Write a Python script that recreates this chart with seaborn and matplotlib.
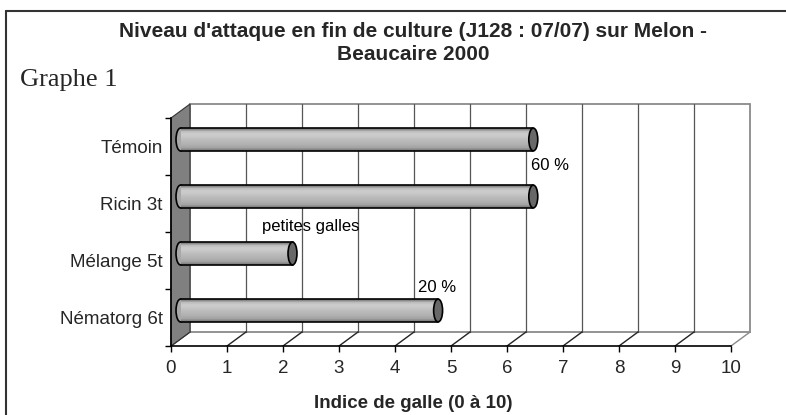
import numpy as np
import matplotlib
matplotlib.use("Agg")
import matplotlib.pyplot as plt
from matplotlib.patches import Polygon, Rectangle, Ellipse
from matplotlib.lines import Line2D
import seaborn as sns

# Données du graphe
categories = ["Témoin", "Ricin 3t", "Mélange 5t", "Nématorg 6t"]
indice_galle = [6.3, 6.3, 2.0, 4.6]
notes = ["", "60 %", "petites galles", "20 %"]
x_ticks = list(range(0, 11))

title = "Niveau d'attaque en fin de culture (J128 : 07/07) sur Melon -\nBeaucaire 2000"
subtitle = "Graphe 1"
x_label = "Indice de galle (0 à 10)"

# décalage (pixels) des étiquettes par rapport au bout de la barre
note_offsets = [(0, 0), (17, 31), (18, 27), (-1, 23)]

sns.set_theme(style="white")
plt.rcParams["font.family"] = ["Liberation Sans", "DejaVu Sans"]

W, H = 786, 415
fig = plt.figure(figsize=(W / 100, H / 100), dpi=100)
fig.patch.set_facecolor("white")
ax = fig.add_axes([171 / W, 1 - 346 / H, 560 / W, 228 / H])
ax.set_facecolor("none")

sns.barplot(x=indice_galle, y=categories, orient="h", width=0.4,
            color="#b4b4b4", ax=ax, zorder=5)
ax.set_xlim(0, 10)
ax.set_ylim(3.5, -0.5)

# profondeur 3D en unités de données
dx = 19 * 10 / 560
dy = 14 * 4 / 228
y_top, y_bot = -0.5, 3.5

# mur du fond + quadrillage
ax.add_patch(Rectangle((dx, y_top - dy), 10, 4, facecolor="white",
                       edgecolor="#8a8a8a", lw=1.3, clip_on=False, zorder=0))
for t in x_ticks[1:-1]:
    ax.add_line(Line2D([t + dx, t + dx], [y_top - dy, y_bot - dy], color="#555555",
                       lw=0.9, clip_on=False, zorder=1))
# sol
for t in x_ticks:
    ax.add_line(Line2D([t, t + dx], [y_bot, y_bot - dy],
                       color="#8a8a8a" if t == 10 else "#222222",
                       lw=1.0, clip_on=False, zorder=1))
# mur de gauche
ax.add_patch(Polygon([(0, y_top), (dx, y_top - dy), (dx, y_bot - dy), (0, y_bot)],
                     closed=True, facecolor="#808080", edgecolor="#333333",
                     lw=0.8, clip_on=False, zorder=2))

# barres façon cylindre
grad = np.array([0.50, 0.74, 0.80, 0.79, 0.76, 0.73, 0.71, 0.68, 0.64, 0.50]).reshape(-1, 1)
bars = [p for p in ax.patches if isinstance(p, Rectangle) and p.get_zorder() == 5]
for patch, note, (ox, oy) in zip(bars, notes, note_offsets):
    patch.set_x(patch.get_x() + dx / 2)
    patch.set_y(patch.get_y() - dy / 2)
    x0, y0 = patch.get_x(), patch.get_y()
    w, h = patch.get_width(), patch.get_height()
    yc = y0 + h / 2
    patch.set_facecolor("none")
    patch.set_edgecolor("none")
    ax.add_patch(Ellipse((x0, yc), 0.16, h, facecolor="#a8a8a8", edgecolor="black",
                         lw=1.2, clip_on=False, zorder=4))
    im = ax.imshow(grad, cmap="gray", vmin=0, vmax=1, aspect="auto",
                   extent=(x0, x0 + w, y0 + h, y0), interpolation="bilinear", zorder=5)
    im.set_clip_path(patch)
    ax.add_line(Line2D([x0, x0 + w], [y0, y0], color="black", lw=1.2, zorder=6))
    ax.add_line(Line2D([x0, x0 + w], [y0 + h, y0 + h], color="black", lw=1.2, zorder=6))
    ax.add_patch(Ellipse((x0 + w, yc), 0.16, h, facecolor="#686868", edgecolor="black",
                         lw=1.2, clip_on=False, zorder=7))
    if note:
        ax.annotate(note, xy=(x0 + w, yc), xytext=(ox, oy), textcoords="offset pixels",
                    ha="center", va="center", fontsize=12, color="black", zorder=8)

ax.set_xlim(0, 10)
ax.set_ylim(3.5, -0.5)
ax.set_aspect("auto")

# axes
for side in ["top", "right"]:
    ax.spines[side].set_visible(False)
for side in ["left", "bottom"]:
    ax.spines[side].set_color("black")
    ax.spines[side].set_linewidth(1.2)
    ax.spines[side].set_zorder(3)
ax.set_xticks(x_ticks)
ax.set_xticklabels([str(t) for t in x_ticks], fontsize=13.5)
ax.tick_params(axis="x", direction="out", length=4, width=1, color="black", pad=6,
               bottom=True)
ax.set_yticks(range(len(categories)))
ax.set_yticklabels(categories, fontsize=13.5)
ax.set_yticks([-0.5, 0.5, 1.5, 2.5, 3.5], minor=True)
ax.tick_params(axis="y", which="major", length=0, pad=6)
ax.tick_params(axis="y", which="minor", direction="out", length=4, width=1,
               color="black", left=True)
ax.set_xlabel("")
ax.set_ylabel("")
ax.grid(False)

# textes
fig.text(413 / W, 1 - 43 / H, title, ha="center", va="center", fontsize=15,
         fontweight="bold", linespacing=1.25)
fig.text(20 / W, 1 - 80 / H, subtitle, ha="left", va="center", fontsize=19,
         family=["Liberation Serif", "DejaVu Serif"])
fig.text(413 / W, 1 - 403 / H, x_label, ha="center", va="center", fontsize=13.5,
         fontweight="bold")

# cadre extérieur
fig.add_artist(Line2D([6 / W, 6 / W], [0, 1 - 11 / H], color="#333333", lw=1.5))
fig.add_artist(Line2D([6 / W, 1], [1 - 11 / H, 1 - 11 / H], color="#333333", lw=1.5))

fig.savefig("out.png", dpi=100, facecolor="white")
